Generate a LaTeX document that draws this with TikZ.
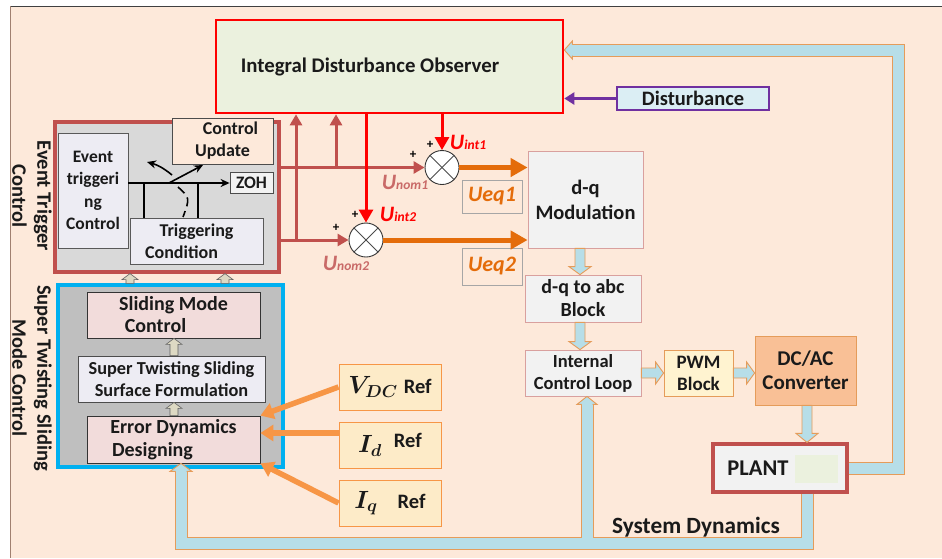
\documentclass[tikz,border=0pt]{standalone}
\usepackage{fontspec}
\setmainfont{Carlito}
\usepackage{amsmath}
\usetikzlibrary{arrows.meta,calc}
\definecolor{bgpeach}{HTML}{FDE9DA}
\definecolor{idogreen}{HTML}{EBF1DE}
\definecolor{brn}{HTML}{C0504D}
\definecolor{rd}{HTML}{FF0000}
\definecolor{org}{HTML}{E46C0A}
\definecolor{lorg}{HTML}{F79646}
\definecolor{lblue}{HTML}{B7DEE8}
\definecolor{bandedge}{HTML}{E59C5A}
\definecolor{khaki}{HTML}{DDD9C3}
\definecolor{gr1}{HTML}{D9D9D9}
\definecolor{gr2}{HTML}{BFBFBF}
\definecolor{lav}{HTML}{EDECF3}
\definecolor{pinkbox}{HTML}{F2DCDB}
\definecolor{lgrey}{HTML}{F2F2F2}
\definecolor{pinkedge}{HTML}{D9A09E}
\definecolor{lyel}{HTML}{FFF3D0}
\definecolor{tanbox}{HTML}{F9C096}
\definecolor{purp}{HTML}{7030A0}
\definecolor{dblue}{HTML}{DBEEF4}
\definecolor{cyanb}{HTML}{00B0F0}
\definecolor{refyel}{HTML}{FDEBC8}
\definecolor{txt}{HTML}{1A1A1A}
\definecolor{framel}{HTML}{A08070}

\newcommand\bx[7]{\node[#6, minimum width={#4-#2}, minimum height={#5-#3}] (#1) at ({(#2+#4)/2},{(#3+#5)/2}) {#7};}
% fat arrow: style, from, to, shaft half width, head half width, head length
\newcommand\fatarrow[6]{%
  \draw[#1] let \p1=#2, \p2=#3,
    \n1={(\x2-\x1)/veclen(\x2-\x1,\y2-\y1)},
    \n2={(\y2-\y1)/veclen(\x2-\x1,\y2-\y1)} in
    ({\x1-(\n2)*#4},{\y1+(\n1)*#4}) --
    ({\x2-(\n1)*#6-(\n2)*#4},{\y2-(\n2)*#6+(\n1)*#4}) --
    ({\x2-(\n1)*#6-(\n2)*#5},{\y2-(\n2)*#6+(\n1)*#5}) --
    (\p2) --
    ({\x2-(\n1)*#6+(\n2)*#5},{\y2-(\n2)*#6-(\n1)*#5}) --
    ({\x2-(\n1)*#6+(\n2)*#4},{\y2-(\n2)*#6-(\n1)*#4}) --
    ({\x1+(\n2)*#4},{\y1-(\n1)*#4}) -- cycle;}
% head only: style, from, tip, shaft half width, head half width, head length
\newcommand\fathead[6]{%
  \filldraw[#1] let \p1=#2, \p2=#3,
    \n1={(\x2-\x1)/veclen(\x2-\x1,\y2-\y1)},
    \n2={(\y2-\y1)/veclen(\x2-\x1,\y2-\y1)} in
    ({\x2-(\n1)*#6-(\n2)*#4},{\y2-(\n2)*#6+(\n1)*#4}) --
    ({\x2-(\n1)*#6-(\n2)*#5},{\y2-(\n2)*#6+(\n1)*#5}) --
    (\p2) --
    ({\x2-(\n1)*#6+(\n2)*#5},{\y2-(\n2)*#6-(\n1)*#5}) --
    ({\x2-(\n1)*#6+(\n2)*#4},{\y2-(\n2)*#6-(\n1)*#4});}

\tikzset{
  box/.style={draw, inner sep=0pt, align=center, text=txt, line width=0.8pt},
  fatb/.style={draw=bandedge, fill=lblue, line width=0.9pt, line join=miter},
  fatk/.style={draw=gray!75!black, fill=khaki, line width=0.6pt},
  bandout/.style={line width=13pt, draw=bandedge, line join=miter},
  bandin/.style={line width=11pt, draw=lblue, line join=miter},
  brnarr/.style={line width=3pt, draw=brn, -{Triangle[length=11pt,width=12pt]}},
  rdarr/.style={line width=3pt, draw=rd, -{Triangle[length=13pt,width=14pt]}},
  orarr/.style={line width=5pt, draw=org, -{Triangle[length=17pt,width=18pt]}},
  refarr/.style={line width=5.5pt, draw=lorg, -{Triangle[length=13pt,width=16pt]}},
  swl/.style={line width=1.6pt, draw=black},
  sumc/.style={circle, draw=black!80, fill=white, line width=0.9pt, minimum size=34pt, inner sep=0pt},
  ulab/.style={font=\bfseries\itshape, inner sep=0pt},
  plus/.style={inner sep=0pt, font=\bfseries\fontsize{13}{13}\selectfont},
}

\begin{document}
\begin{tikzpicture}[x=1pt,y=-1pt, font=\bfseries\fontsize{20.5}{24}\selectfont]
\useasboundingbox (0,0) rectangle (942,558);
\fill[bgpeach] (10,6) rectangle (942,558);
\draw[black!75, line width=1pt] (10,6) -- (942,6);
\draw[framel, line width=1pt] (10,6) -- (10,558);

% ---------- boxes ----------
\bx{ido}{216}{20}{563}{113}{box, draw=rd, fill=idogreen, line width=2.6pt}{}
\node[text=txt, inner sep=0pt, font=\bfseries\fontsize{20.8}{24}\selectfont] (idotext) at (370,67) {Integral Disturbance Observer};

\bx{etc}{55}{122}{279}{272}{box, draw=brn, fill=gr1, line width=3.2pt}{}
\bx{evtc}{58}{133}{128}{248}{box, draw=black!65, fill=lav, font=\bfseries\fontsize{17.5}{22.5}\selectfont}{Event\\triggeri\\ng\\Control}
\bx{cupd}{172}{118}{273}{164}{box, draw=black!70, fill=bgpeach, font=\bfseries\fontsize{18}{22}\selectfont}{\hspace*{16pt}Control\\Update}
\bx{zoh}{230}{172}{273}{193}{box, draw=black!70, fill=lgrey, font=\bfseries\fontsize{17.5}{20}\selectfont}{ZOH}
\bx{tcond}{130}{218}{263}{264}{box, draw=black!65, fill=lav, font=\bfseries\fontsize{18}{22}\selectfont}{Triggering\\Condition\hspace*{30pt}}

\bx{stsmc}{58}{285}{283}{467}{box, draw=cyanb, fill=gr2, line width=3.4pt}{}
\bx{smc}{87}{292}{260}{338}{box, draw=black!80, fill=pinkbox, font=\bfseries\fontsize{20}{22}\selectfont}{Sliding Mode\\Control\hspace*{36pt}}
\bx{stsf}{78}{356}{265}{402}{box, draw=black!70, fill=lav, font=\bfseries\fontsize{18.3}{22}\selectfont}{Super Twisting Sliding\\Surface Formulation}
\bx{edd}{87}{416}{260}{463}{box, draw=black!80, fill=pinkbox, font=\bfseries\fontsize{20}{23}\selectfont}{Error Dynamics\\Designing\hspace*{42pt}}

\bx{dqmod}{528}{151}{643}{248}{box, draw=pinkedge, fill=lgrey, font=\bfseries\fontsize{20.5}{25}\selectfont}{d-q\\Modulation}
\bx{dqabc}{525}{275}{641}{322}{box, draw=pinkedge, fill=lgrey, font=\bfseries\fontsize{20}{23}\selectfont}{d-q to abc\\Block}
\bx{icl}{525}{350}{641}{396}{box, draw=pinkedge, fill=lgrey, font=\bfseries\fontsize{18.5}{22}\selectfont}{Internal\\Control Loop}
\bx{pwm}{664}{350}{733}{396}{box, draw=bandedge, fill=lyel, font=\bfseries\fontsize{19}{22}\selectfont}{PWM\\Block}
\bx{dcac}{755}{336}{856}{405}{box, draw=bandedge, fill=tanbox, font=\bfseries\fontsize{21}{24}\selectfont}{DC/AC\\Converter}
\bx{plant}{713}{444}{847}{492}{box, draw=brn, fill=lgrey, line width=3.2pt}{}
\fill[idogreen] (795,455) rectangle (838,483);
\node[text=txt, inner sep=0pt, font=\bfseries\fontsize{22.5}{24}\selectfont] (planttext) at (758,468) {PLANT};

\bx{dist}{617}{87}{769}{110}{box, draw=purp, fill=dblue, line width=2.4pt, font=\bfseries\fontsize{20.5}{22}\selectfont}{Disturbance}

\bx{vdc}{339}{364}{441}{410}{box, draw=lorg, fill=refyel, line width=1pt}{{\fontsize{23}{24}\selectfont\boldmath$V_{DC}$}\hspace{6pt}Ref}
\bx{idr}{339}{422}{441}{468}{box, draw=lorg, fill=refyel, line width=1pt}{{\fontsize{23}{24}\selectfont\boldmath$I_{d}$}\hspace{12pt}\raisebox{5pt}{Ref}}
\bx{iqr}{339}{480}{441}{526}{box, draw=lorg, fill=refyel, line width=1pt}{{\fontsize{23}{24}\selectfont\boldmath$I_{q}$}\hspace{20pt}Ref}

\bx{ueq1}{462}{180}{522}{213}{box, draw=black!35, line width=0.9pt, text=org, font=\bfseries\itshape\fontsize{22}{22}\selectfont}{Ueq1}
\bx{ueq2}{462}{248}{522}{285}{box, draw=black!35, line width=0.9pt, text=org, font=\bfseries\itshape\fontsize{22}{22}\selectfont}{Ueq2}

% rotated group labels
\node[rotate=-90, align=center, text=txt, inner sep=0pt, font=\bfseries\fontsize{20.5}{25}\selectfont] (lbetc) at (32,196) {Event Trigger\\Control};
\node[rotate=-90, align=center, text=txt, inner sep=0pt, font=\bfseries\fontsize{20.5}{25}\selectfont] (lbsts) at (32,378) {Super Twisting Sliding\\Mode Control};

% ---------- summing junctions ----------
\node[sumc] (c1) at (442,167.5) {};
\node[sumc] (c2) at (366,240) {};
\foreach \c in {c1,c2}{
  \draw[black!70, line width=0.8pt] (\c.north west) -- (\c.south east);
  \draw[black!70, line width=0.8pt] (\c.north east) -- (\c.south west);
}
\node[plus] (p1a) at (430,145) {+};
\node[plus] (p1b) at (413,155) {+};
\node[plus] (p2a) at (355,215) {+};
\node[plus] (p2b) at (336,228) {+};

\node[ulab, text=rd] (lint1) at (468,142) {\fontsize{22}{22}\selectfont U\fontsize{13.5}{13}\selectfont int1};
\node[ulab, text=rd] (lint2) at (398,214) {\fontsize{22}{22}\selectfont U\fontsize{13.5}{13}\selectfont int2};
\node[ulab, text=brn!85] (lnom1) at (405,182) {\fontsize{22}{22}\selectfont U\fontsize{13.5}{13}\selectfont nom1};
\node[ulab, text=brn!85] (lnom2) at (346,263) {\fontsize{22}{22}\selectfont U\fontsize{13.5}{13}\selectfont nom2};

% ---------- brown / red / orange connectors ----------
\coordinate (xb1) at (296,0);
\coordinate (xb2) at (336,0);
\draw[brnarr] (etc.east |- c1) -- (c1.west);
\draw[brnarr] (etc.east |- c2) -- (c2.west);
\draw[brnarr] (xb1 |- c2) -- (xb1 |- ido.south);
\draw[brnarr] (xb2 |- c1) -- (xb2 |- ido.south);
\draw[rdarr] (c1.north |- ido.south) -- (c1.north);
\draw[rdarr] (c2.north |- ido.south) -- (c2.north);
\draw[orarr] (c1.east) -- (dqmod.west |- c1);
\draw[orarr] (c2.east) -- (dqmod.west |- c2);
\draw[line width=2.4pt, draw=purp, -{Triangle[length=10pt,width=12pt]}] (dist.west) -- (ido.east |- dist.west);

% reference arrows
\coordinate (idout) at ($(idr.west)+(0,-12)$);
\draw[refarr] (vdc.west) -- (edd.north east);
\draw[refarr] (idout) -- (edd.east |- idout);
\draw[refarr] (iqr.west) -- (edd.south east);

% ---------- switch inside event trigger ----------
\coordinate (swy) at (0,183);
\coordinate (pv) at (169,183);
\coordinate (v1) at (144,183);
\coordinate (v2) at (198,183);
\draw[swl] (evtc.east |- swy) -- (pv);
\draw[swl, -{Stealth[length=9pt,width=8pt]}] (pv) -- (203,165);
\draw[swl, -{Stealth[length=9pt,width=8pt]}] (pv) -- (zoh.west |- swy);
\draw[swl, -{Stealth[length=9pt,width=8pt]}] (172,175) to[bend right=12] (147,162);
\draw[swl, dash pattern=on 9pt off 5pt] (178,187) .. controls (190,198) .. (183,217);
\draw[swl] (v1) -- (v1 |- tcond.north);
\draw[swl] (v2) -- (v2 |- tcond.north);

% ---------- fat block arrows ----------
\coordinate (xa) at (580,0);
\coordinate (xp) at (807,0);
\fatarrow{fatb}{(dqmod.south -| xa)}{(dqabc.north -| xa)}{5pt}{11pt}{8pt}
\fatarrow{fatb}{(dqabc.south -| xa)}{(icl.north -| xa)}{5pt}{11pt}{8pt}
\fatarrow{fatb}{(icl.east)}{(pwm.west)}{5pt}{11pt}{8pt}
\fatarrow{fatb}{(pwm.east)}{(dcac.west |- pwm.east)}{5pt}{11pt}{8pt}
\fatarrow{fatb}{(dcac.south -| xp)}{(plant.north -| xp)}{5pt}{11pt}{9pt}

\coordinate (xk) at (174,0);
\coordinate (xk1) at (130,0);
\coordinate (xk2) at (225,0);
\fatarrow{fatk}{(edd.north -| xk)}{(stsf.south -| xk)}{4pt}{8pt}{6pt}
\fatarrow{fatk}{(stsf.north -| xk)}{(smc.south -| xk)}{4pt}{8pt}{6pt}
\fatarrow{fatk}{(stsmc.north -| xk1)}{(etc.south -| xk1)}{4pt}{8pt}{6pt}
\fatarrow{fatk}{(stsmc.north -| xk2)}{(etc.south -| xk2)}{4pt}{8pt}{6pt}

% ---------- feedback bands ----------
\coordinate (fbx) at (898,0);
\coordinate (fbt) at (0,50);
\coordinate (fbb) at (0,543);
\coordinate (eddin) at ($(edd.south)+(7.5,0)$);
\coordinate (iclin) at ($(icl.south)+(4,0)$);
\draw[bandout, shorten >=7pt] (plant.east) -- (fbx |- plant.east) -- (fbx |- fbt) -- (ido.east |- fbt);
\draw[bandout, shorten >=7pt] (plant.south -| xp) -- (xp |- fbb) -- (eddin |- fbb) -- (eddin);
\draw[bandout, shorten >=7pt] (iclin |- fbb) -- (iclin);
\draw[bandin, shorten >=7pt] (plant.east) -- (fbx |- plant.east) -- (fbx |- fbt) -- (ido.east |- fbt);
\draw[bandin, shorten >=7pt] (plant.south -| xp) -- (xp |- fbb) -- (eddin |- fbb) -- (eddin);
\draw[bandin, shorten >=7pt] (iclin |- fbb) -- (iclin);
\fathead{fatb}{(fbx |- fbt)}{(ido.east |- fbt)}{5.5pt}{9pt}{8pt}
\fathead{fatb}{(eddin |- fbb)}{(eddin)}{5.5pt}{11pt}{8pt}
\fathead{fatb}{(iclin |- fbb)}{(iclin)}{5.5pt}{10pt}{8pt}

\node[text=txt, inner sep=0pt, font=\bfseries\fontsize{23.3}{24}\selectfont] (sysdyn) at (696,527) {System Dynamics};
\end{tikzpicture}
\end{document}
